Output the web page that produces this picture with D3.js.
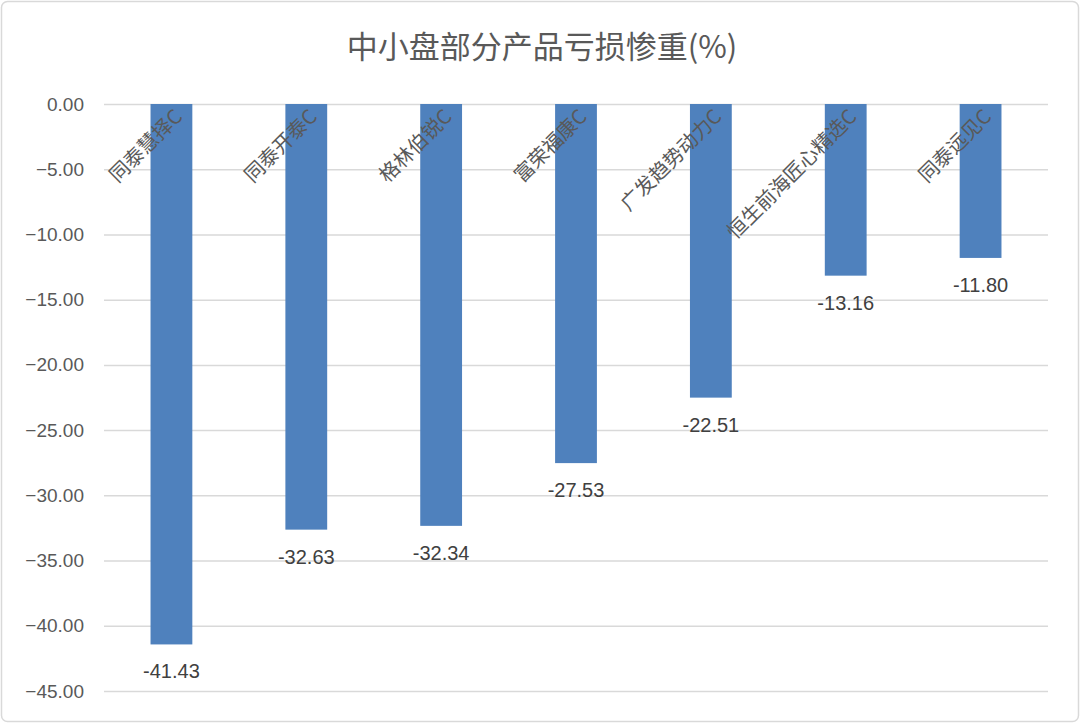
<!DOCTYPE html>
<html><head><meta charset="utf-8">
<script src="https://cdn.jsdelivr.net/npm/d3@7"></script>
<style>body{margin:0;background:#fff}text{font-family:"Noto Sans CJK SC","Liberation Sans",sans-serif}</style>
</head><body><div id="chart"></div>
<script>
const categories = ["同泰慧择C","同泰开泰C","格林伯锐C","富荣福康C","广发趋势动力C","恒生前海匠心精选C","同泰远见C"];
const values = [-41.43,-32.63,-32.34,-27.53,-22.51,-13.16,-11.80];
const yTicks = [0,-5,-10,-15,-20,-25,-30,-35,-40,-45];

const W = 1080, H = 723;
const margin = {top: 104, right: 32, bottom: 32, left: 104};
const width = W - margin.left - margin.right, height = H - margin.top - margin.bottom;

const root = d3.select("#chart").append("svg").attr("width", W).attr("height", H);
root.append("rect").attr("x",1.5).attr("y",1.5).attr("width",W-3).attr("height",H-3)
  .attr("rx",6).attr("fill","#fff").attr("stroke","#d9d9d9").attr("stroke-width",1.5);
root.append("text").attr("x",W/2+2).attr("y",58).attr("text-anchor","middle")
  .attr("font-size",31).attr("fill","#595959").text("中小盘部分产品亏损惨重(%)");

const svg = root.append("g").attr("transform",`translate(${margin.left},${margin.top})`);
const x = d3.scaleBand().domain(categories).range([0,width]).paddingInner(0.69).paddingOuter(0.345);
const y = d3.scaleLinear().domain([0,-45]).range([0,height]);

const yAxis = d3.axisLeft(y).tickValues(yTicks).tickSize(-width).tickFormat(d3.format(".2f"));
const ga = svg.append("g").call(yAxis);
ga.select(".domain").remove();
ga.selectAll(".tick line").attr("stroke","#d9d9d9").attr("stroke-width",1.5);
ga.selectAll(".tick text").attr("font-size",19).attr("fill","#595959").attr("x",-20)
  .style("font-family","Liberation Sans, sans-serif");

svg.selectAll(".bar").data(values).join("rect")
  .attr("x",(d,i)=>x(categories[i])).attr("y",y(0))
  .attr("width",x.bandwidth()).attr("height",d=>y(d)-y(0)).attr("fill","#4f81bd");

svg.selectAll(".val").data(values).join("text")
  .attr("x",(d,i)=>x(categories[i])+x.bandwidth()/2).attr("y",d=>y(d)+34)
  .attr("text-anchor","middle").attr("font-size",20).attr("fill","#404040")
  .style("font-family","Liberation Sans, sans-serif").text(d=>d.toFixed(2));

svg.selectAll(".cat").data(categories).join("text")
  .attr("transform",d=>`translate(${x(d)+x.bandwidth()/2+12},${14}) rotate(-45)`)
  .attr("text-anchor","end").attr("font-size",20).attr("fill","#595959").text(d=>d);
</script></body></html>
